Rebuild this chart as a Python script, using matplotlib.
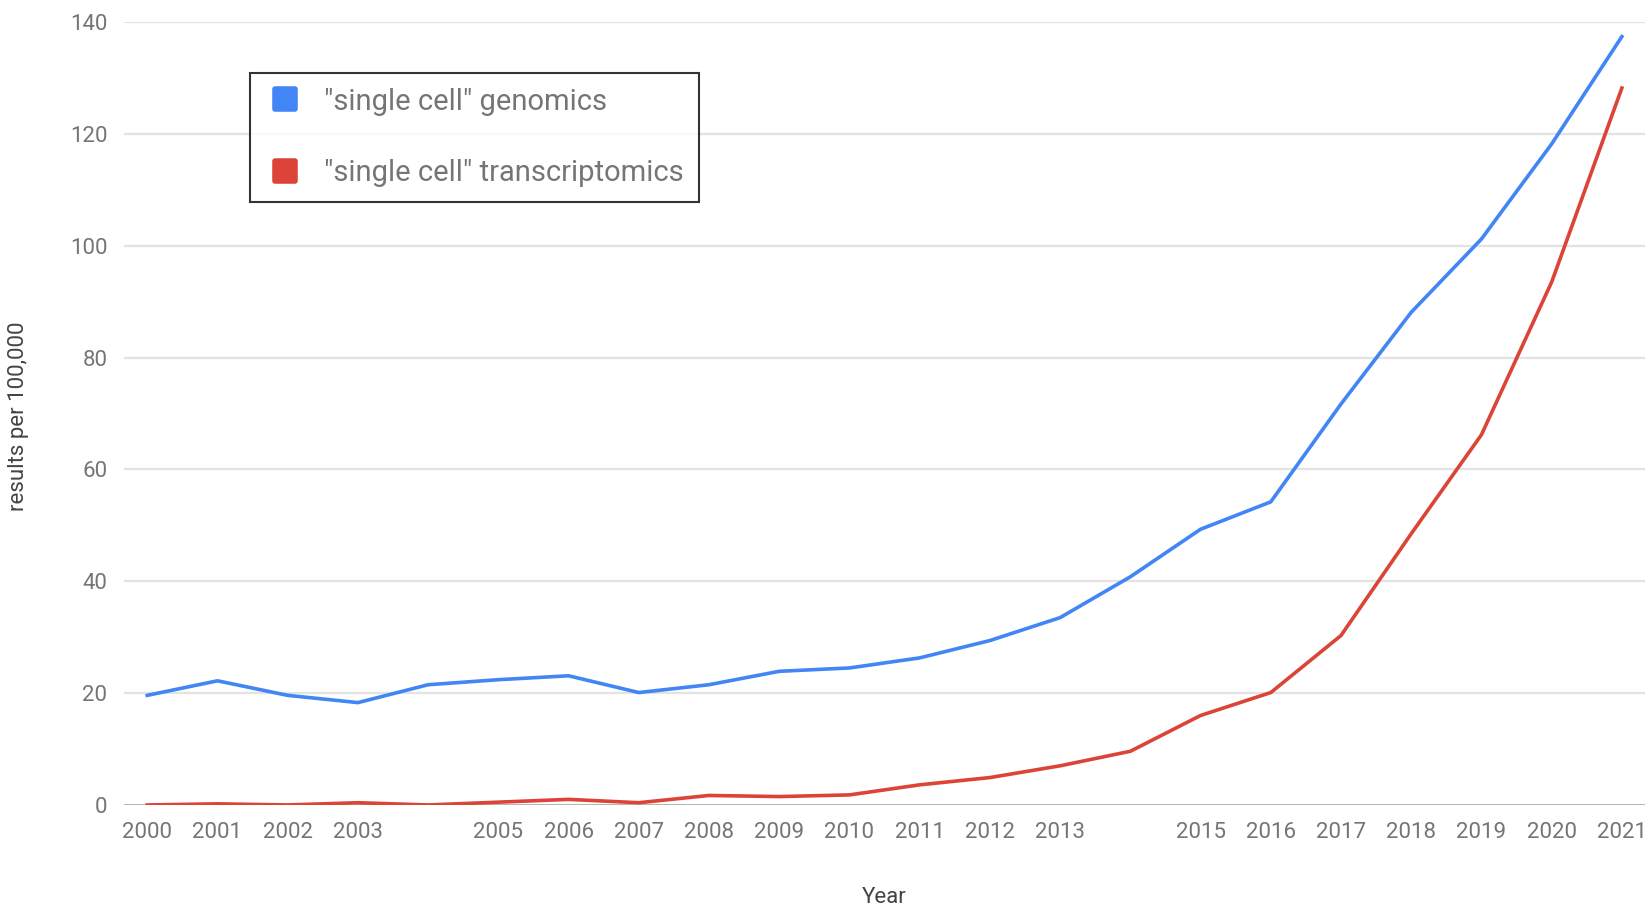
import matplotlib
matplotlib.use("Agg")
import matplotlib.pyplot as plt
from matplotlib.lines import Line2D
from matplotlib.markers import MarkerStyle

plt.rcParams["font.family"] = ["Roboto", "DejaVu Sans"]

# ─── data ─────────────────────────────────────────────────────────────
years = list(range(2000, 2022))
genomics = [19.6, 22.2, 19.6, 18.3, 21.5, 22.4, 23.1, 20.1, 21.5, 23.9, 24.5,
            26.3, 29.4, 33.5, 40.8, 49.3, 54.2, 71.7, 88.1, 101.2, 118.2, 137.4]
transcriptomics = [0.0, 0.2, 0.0, 0.4, 0.0, 0.5, 1.0, 0.4, 1.7, 1.5, 1.8,
                   3.6, 4.9, 7.0, 9.6, 16.0, 20.1, 30.3, 48.5, 66.2, 93.5, 128.2]
tick_years = [y for y in years if y not in (2004, 2014)]
y_ticks = [0, 20, 40, 60, 80, 100, 120, 140]
labels = ['"single cell" genomics', '"single cell" transcriptomics']

BLUE = "#4285F4"
RED = "#DB4437"
GREY = "#757575"

fig = plt.figure(figsize=(16.5, 9.07), dpi=100)
ax = fig.add_axes([0.0752, 0.1125, 0.9218, 0.8632])

# gridlines + baseline
for v in y_ticks[1:]:
    ax.axhline(v, color="#e3e3e3", lw=1.6, zorder=0)
ax.axhline(0, color="#9e9e9e", lw=1.8, zorder=1)

ax.plot(years, genomics, color=BLUE, lw=2.6, zorder=3, solid_joinstyle="round")
ax.plot(years, transcriptomics, color=RED, lw=2.6, zorder=3, solid_joinstyle="round")

ax.set_xlim(1999.67, 2021.33)
ax.set_ylim(0, 140)
ax.set_xticks(tick_years)
ax.set_xticklabels([str(y) for y in tick_years])
ax.set_yticks(y_ticks)
ax.tick_params(axis="both", length=0, labelsize=16, colors=GREY)
ax.tick_params(axis="y", pad=12)
ax.tick_params(axis="x", pad=12)
for s in ax.spines.values():
    s.set_visible(False)

fig.text(0.5357, 0.011, "Year", ha="center", va="center", fontsize=16, color="#444444")
fig.text(0.0115, 0.541, "results per 100,000", ha="center", va="center",
         rotation=90, fontsize=16, color="#444444")

# ─── legend ───────────────────────────────────────────────────────────
sq = MarkerStyle("s", joinstyle="round")
handles = [Line2D([], [], ls="none", marker=sq, markersize=15, mew=4, color=BLUE),
           Line2D([], [], ls="none", marker=sq, markersize=15, mew=4, color=RED)]
leg = fig.legend(handles, labels, loc="upper left",
                 bbox_to_anchor=(0.1515, 0.9195), fontsize=21,
                 frameon=True, fancybox=False, edgecolor="black",
                 handlelength=1.4, handletextpad=0.65, labelspacing=1.5,
                 borderpad=0.5, borderaxespad=0)
leg.get_frame().set_linewidth(1.5)
for t in leg.get_texts():
    t.set_color(GREY)

fig.savefig("out.png", dpi=100, facecolor="white")
